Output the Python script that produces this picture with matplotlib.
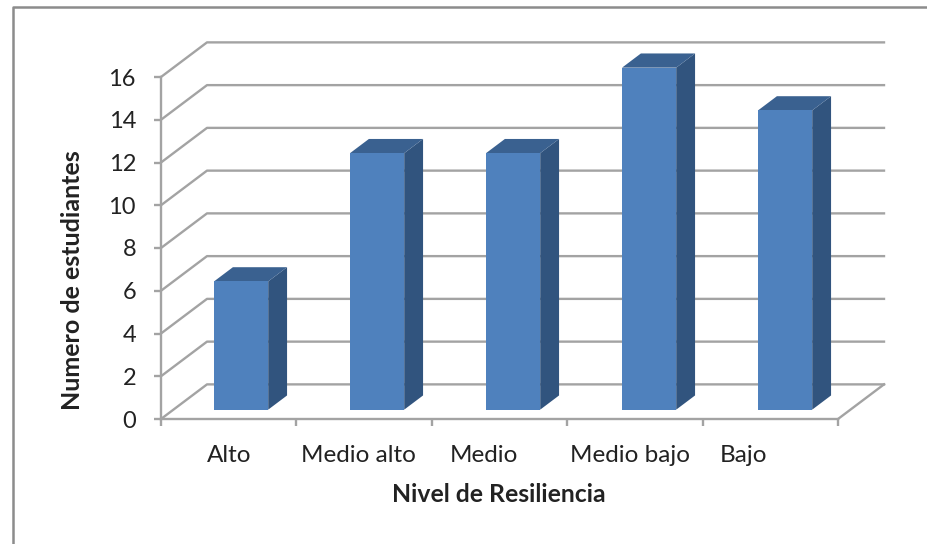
import matplotlib
matplotlib.use("Agg")
import matplotlib.pyplot as plt
from matplotlib.patches import Polygon

plt.rcParams['font.family'] = ['Lato', 'DejaVu Sans']

categories = ['Alto', 'Medio alto', 'Medio', 'Medio bajo', 'Bajo']
values = [6, 12, 12, 16, 14]
y_ticks = [0, 2, 4, 6, 8, 10, 12, 14, 16]

FIG_W, FIG_H = 927, 544
GRID_COLOR = '#a3a3a3'
TEXT_COLOR = '#222222'

# oblique depth of the chart box, in data units
DEPTH_X = 46 / 135.4
DEPTH_Y = 34.5 / 21.3
BAR_WIDTH = 0.40
BAR_PITCH = 136 / 135.4  # bars drift a little against the ticks in the original
BAR_NEAR = 0.27  # fraction of the box depth where the bar front sits
BAR_FAR = 0.68

# label anchors do not line up with the category centres in the original
LABEL_SHIFT = [0.0, -0.04, -0.115, -0.035, -0.2]


def project(x, y, depth):
    return x + depth * DEPTH_X, y + depth * DEPTH_Y


def draw_bar(ax, i, value):
    left = i * BAR_PITCH + 0.5 - BAR_WIDTH / 2
    right = left + BAR_WIDTH
    front = [project(left, 0, BAR_NEAR), project(right, 0, BAR_NEAR),
             project(right, value, BAR_NEAR), project(left, value, BAR_NEAR)]
    side = [project(right, 0, BAR_NEAR), project(right, 0, BAR_FAR),
            project(right, value, BAR_FAR), project(right, value, BAR_NEAR)]
    top = [project(left, value, BAR_NEAR), project(right, value, BAR_NEAR),
           project(right, value, BAR_FAR), project(left, value, BAR_FAR)]
    ax.add_patch(Polygon(side, closed=True, fc='#31547e', ec='none', zorder=3, clip_on=False))
    ax.add_patch(Polygon(top, closed=True, fc='#3a6190', ec='none', zorder=3, clip_on=False))
    ax.add_patch(Polygon(front, closed=True, fc='#4f81bd', ec='none', zorder=4, clip_on=False))


def main():
    fig = plt.figure(figsize=(FIG_W / 100, FIG_H / 100), dpi=100)
    # axes box in pixels: x 161..838, y 77..419
    ax = fig.add_axes([161 / FIG_W, 1 - 419 / FIG_H, (838 - 161) / FIG_W, (419 - 77) / FIG_H])
    ax.set_xlim(0, len(categories))
    ax.set_ylim(0, 16)
    ax.patch.set_alpha(0)

    # walls and floor
    for tick in y_ticks:
        xb, yb = project(0, tick, 1)
        xe, _ = project(len(categories), tick, 1)
        ax.plot([0, xb, xe], [tick, yb, yb], color=GRID_COLOR, lw=1.7, zorder=1, clip_on=False)
    xb, yb = project(len(categories), 0, 1)
    ax.plot([len(categories), xb], [0, yb], color=GRID_COLOR, lw=1.7, zorder=1, clip_on=False)

    for i, value in enumerate(values):
        draw_bar(ax, i, value)

    for name in ['top', 'right']:
        ax.spines[name].set_visible(False)
    for name in ['left', 'bottom']:
        ax.spines[name].set_color(GRID_COLOR)
        ax.spines[name].set_linewidth(1.7)

    ax.set_yticks(y_ticks)
    ax.set_xticks(range(len(categories) + 1))
    ax.set_xticklabels([])
    ax.tick_params(axis='both', color=GRID_COLOR, width=1.7, length=5)
    ax.tick_params(axis='y', labelsize=17, labelcolor=TEXT_COLOR, pad=13)

    for i, label in enumerate(categories):
        ax.annotate(label, xy=(i + 0.5 + LABEL_SHIFT[i], 0), xytext=(0, -26),
                    textcoords='offset points', ha='center', va='center',
                    fontsize=17.5, color=TEXT_COLOR)

    fig.text(499 / FIG_W, 1 - 495 / FIG_H, 'Nivel de Resiliencia', ha='center', va='center',
             fontsize=17.8, fontweight='bold', color=TEXT_COLOR)
    fig.text(73 / FIG_W, 1 - 280 / FIG_H, 'Numero de estudiantes', ha='center', va='center',
             rotation=90, fontsize=18, fontweight='bold', color=TEXT_COLOR)

    # outer chart frame, only top and left are inside the picture
    fig.add_artist(plt.Line2D([13 / FIG_W, 13 / FIG_W, 1], [0, 1 - 6.5 / FIG_H, 1 - 6.5 / FIG_H],
                              color='#8c8c8c', lw=1.8))

    fig.savefig('out.png', dpi=100)


if __name__ == "__main__":
    main()
